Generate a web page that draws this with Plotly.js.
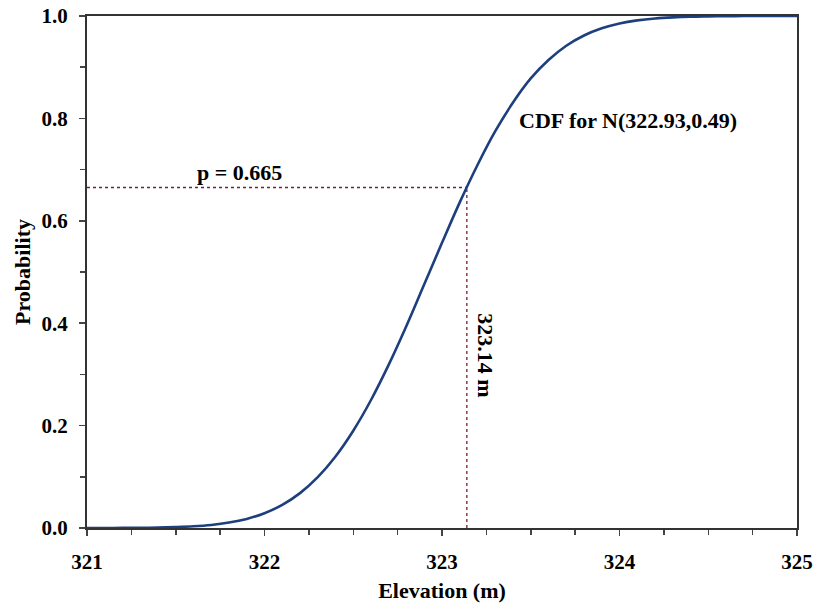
<!DOCTYPE html>
<html>
<head>
<meta charset="utf-8">
<script src="https://cdn.plot.ly/plotly-3.0.1.min.js"></script>
<style>html,body{margin:0;padding:0;background:#fff}#chart{width:814px;height:603px}</style>
</head>
<body>
<div id="chart"></div>
<script>
// Values
const elevation = [321.0,321.1,321.2,321.3,321.4,321.5,321.6,321.7,321.8,321.9,
  322.0,322.1,322.2,322.3,322.4,322.5,322.6,322.7,322.8,322.9,
  323.0,323.1,323.2,323.3,323.4,323.5,323.6,323.7,323.8,323.9,
  324.0,324.1,324.2,324.3,324.4,324.5,324.6,324.7,324.8,324.9,325.0];
const probability = [0.0000,0.0001,0.0002,0.0004,0.0008,0.0018,0.0033,0.0060,0.0106,0.0178,
  0.0289,0.0451,0.0681,0.0993,0.1397,0.1900,0.2500,0.3190,0.3950,0.4760,
  0.5570,0.6360,0.7090,0.7750,0.8310,0.8780,0.9140,0.9420,0.9620,0.9760,
  0.9855,0.9915,0.9952,0.9974,0.9987,0.9993,0.9997,0.9999,1.0000,1.0000,1.0000];
const markX = 323.14;
const markP = 0.665;
const xMin = 321, xMax = 325;
const curveLabel = 'CDF for N(322.93,0.49)';
const pLabel = 'p = 0.665';
const xLabel = '323.14 m';

const fam = '"Liberation Serif", "Times New Roman", serif';
const tickFont = {family: fam, color: '#000', size: 21, weight: 'bold'};
const textFont = {family: fam, color: '#000', size: 22, weight: 'bold'};
const guide = {color: '#7a1f2b', width: 1.3, dash: 'dot'};

const traces = [
  {x: [xMin, markX], y: [markP, markP], mode: 'lines', line: guide, hoverinfo: 'skip'},
  {x: [markX, markX], y: [0, markP], mode: 'lines', line: guide, hoverinfo: 'skip'},
  {x: elevation, y: probability, mode: 'lines', line: {color: '#1e3f7e', width: 2.6, shape: 'spline'}}
];

const axisCommon = {
  showgrid: false, zeroline: false, showline: true, linecolor: '#333', linewidth: 2,
  mirror: true, ticks: 'outside', ticklen: 6, tickwidth: 1.5, tickcolor: '#444',
  tickfont: tickFont
};

const layout = {
  width: 814, height: 603,
  margin: {l: 87, r: 17, t: 16, b: 75},
  showlegend: false,
  paper_bgcolor: '#fff', plot_bgcolor: '#fff',
  font: textFont,
  xaxis: Object.assign({}, axisCommon, {
    range: [xMin, xMax], dtick: 1, tick0: 321, ticklabelstandoff: 8,
    minor: {dtick: 0.25, ticks: 'outside', ticklen: 5, tickcolor: '#444', tickwidth: 1.5},
    title: {text: 'Elevation (m)', font: textFont, standoff: 10}
  }),
  yaxis: Object.assign({}, axisCommon, {
    range: [0, 1], dtick: 0.2, tickformat: '.1f', ticklabelstandoff: 7,
    minor: {dtick: 0.1, ticks: 'outside', ticklen: 5, tickcolor: '#444', tickwidth: 1.5},
    title: {text: 'Probability', font: textFont, standoff: 5}
  }),
  annotations: [
    {x: 321.86, y: 0.695, xref: 'x', yref: 'y', text: pLabel, showarrow: false, font: textFont},
    {x: 323.42, y: 0.795, xref: 'x', yref: 'y', text: curveLabel, showarrow: false, xanchor: 'left', font: textFont},
    {x: 323.24, y: 0.338, xref: 'x', yref: 'y', text: xLabel, showarrow: false, textangle: 90, font: textFont}
  ]
};

Plotly.newPlot('chart', traces, layout, {displayModeBar: false, staticPlot: true});
</script>
</body>
</html>
